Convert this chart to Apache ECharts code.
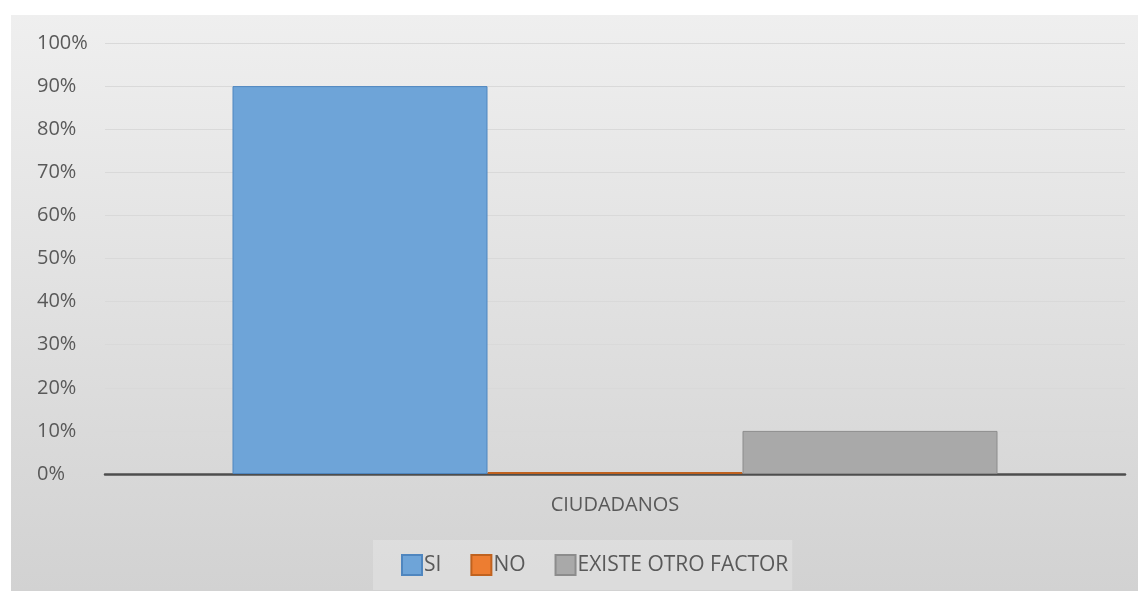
<!DOCTYPE html>
<html>
<head>
<meta charset="utf-8">
<script src="https://cdn.jsdelivr.net/npm/echarts@6/dist/echarts.min.js"></script>
<style>
html,body{margin:0;padding:0;background:#fff;}
#c{width:1138px;height:591px;}
</style>
</head>
<body>
<div id="c"></div>
<script>
const categories = ['CIUDADANOS'];
const seriesNames = ['SI', 'NO', 'EXISTE OTRO FACTOR'];
const siValues = [90];
const noValues = [0];
const otroValues = [10];
const colors = ['#6ea4d8', '#ed7d31', '#a9a9a9'];
const borders = ['#4f86bf', '#c0621f', '#8c8c8c'];

const chart = echarts.init(document.getElementById('c'), null, {renderer: 'canvas'});
const dataSets = [siValues, noValues, otroValues];
const series = seriesNames.map((n, i) => ({
  name: n,
  type: 'bar',
  data: dataSets[i],
  barGap: '0%',
  barCategoryGap: '25%',
  barMinHeight: i === 1 ? 2 : 0,
  itemStyle: {color: colors[i], borderColor: borders[i], borderWidth: 1},
  z: 3
}));

chart.setOption({
  animation: false,
  textStyle: {fontFamily: 'Open Sans'},
  graphic: [{
    type: 'rect',
    left: 11, top: 15,
    shape: {width: 1127, height: 576},
    style: {fill: new echarts.graphic.LinearGradient(0, 0, 0, 1, [
      {offset: 0, color: '#efefef'},
      {offset: 1, color: '#d2d2d2'}
    ])},
    z: -10
  }],
  grid: {left: 105, right: 13, top: 43, bottom: 117},
  legend: {
    data: seriesNames,
    bottom: 1,
    left: 373,
    itemWidth: 20,
    itemHeight: 20,
    itemGap: 29,
    padding: [14, 4, 14, 28],
    backgroundColor: 'rgba(255,255,255,0.22)',
    icon: 'rect',
    textStyle: {color: '#595959', fontSize: 21, fontFamily: 'Open Sans', padding: [0, 0, 0, -3]}
  },
  xAxis: {
    type: 'category',
    data: categories,
    axisLine: {lineStyle: {color: '#4d4d4d', width: 2.5}},
    axisTick: {show: false},
    axisLabel: {color: '#595959', fontSize: 20, margin: 21}
  },
  yAxis: {
    type: 'value',
    min: 0, max: 100, interval: 10,
    axisLine: {show: false},
    axisTick: {show: false},
    splitLine: {lineStyle: {color: '#d9d9d9', width: 1}},
    axisLabel: {color: '#595959', fontSize: 20, formatter: '{value}%', align: 'left', margin: 68}
  },
  series: series
});
</script>
</body>
</html>
